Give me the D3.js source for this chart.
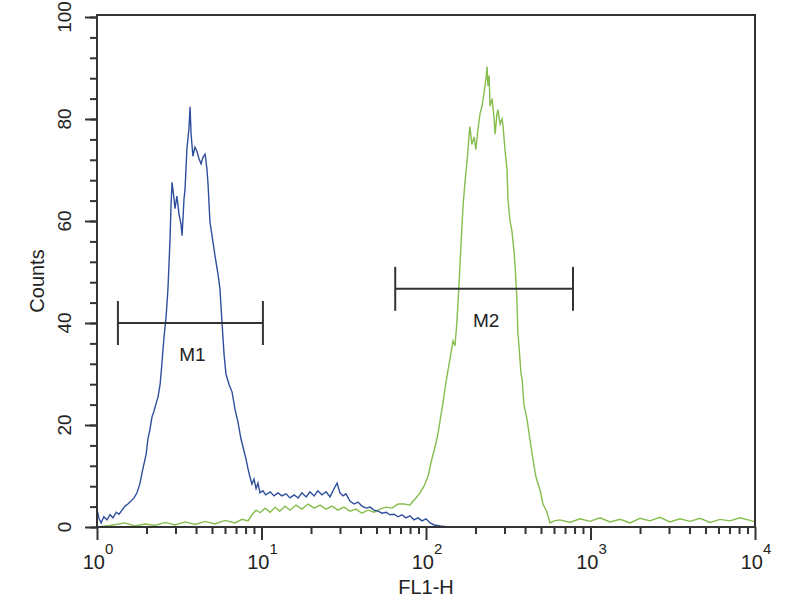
<!DOCTYPE html>
<html>
<head>
<meta charset="utf-8">
<script src="https://cdn.jsdelivr.net/npm/d3@7"></script>
<style>
  body { margin: 0; background: #fff; }
  svg text { font-family: "Liberation Sans", Arial, sans-serif; fill: #222; }
</style>
</head>
<body>
<svg id="chart" width="800" height="600"></svg>
<script>
// FL1-H histogram, blue = control, green = stained
var blue_x = [1.00,1.03,1.06,1.10,1.15,1.20,1.25,1.31,1.36,1.42,1.48,1.54,1.61,1.68,1.75,1.82,1.90,1.99,2.04,2.10,
  2.16,2.22,2.28,2.35,2.42,2.48,2.55,2.63,2.70,2.78,2.82,2.86,2.94,2.98,3.06,3.15,3.24,3.29,3.38,3.43,
  3.52,3.62,3.68,3.73,3.83,3.94,4.05,4.17,4.29,4.41,4.54,4.66,4.73,4.86,5.07,5.22,5.44,5.59,5.75,5.92,
  6.08,6.34,6.62,6.90,7.19,7.50,7.83,8.05,8.28,8.51,8.75,9.00,9.27,9.52,9.79,10.2,10.6,11.3,11.9,12.6,
  13.3,14.1,14.9,15.8,16.7,17.6,18.7,19.7,20.9,22.0,23.3,24.7,26.1,27.6,28.8,30.0,31.3,32.6,34.5,36.5,
  38.6,40.8,43.2,45.7,48.3,51.1,54.0,57.1,60.4,63.9,67.6,71.4,75.5,79.9,84.5,89.4,94.6,100,106,112,
  122,131];
var blue_counts = [3.5,1.6,0.8,2.0,1.4,2.4,1.8,2.9,2.5,3.3,4.1,4.5,5.1,5.7,6.7,8.4,11.4,14.3,17.3,19.2,
  21.6,22.7,24.1,25.5,28.0,32.0,36.9,41.2,46.7,56.5,63.3,67.6,64.3,62.4,64.9,61.4,59.4,57.1,64.3,66.3,
  74.1,78.0,82.4,77.1,72.7,74.5,73.7,72.2,71.2,72.5,73.1,70.2,67.3,59.8,55.9,53.1,49.6,46.7,40.2,33.9,
  30.0,28.0,26.5,23.1,20.6,17.3,14.9,13.3,11.4,9.8,8.4,9.4,7.5,8.6,6.7,7.1,6.3,6.9,6.1,6.7,
  6.1,6.5,5.7,6.3,5.7,6.7,5.9,6.9,6.1,7.1,6.3,6.9,5.9,7.5,8.6,6.7,6.1,6.5,5.1,4.5,
  4.9,4.1,3.7,3.9,3.3,3.1,2.7,2.9,2.4,2.5,2.0,2.4,1.8,2.2,1.4,1.8,1.2,1.6,0.8,0.4,
  0.2,0.1];

var green_x = [1.00,1.20,1.48,1.70,1.96,2.25,2.59,2.98,3.43,3.94,4.54,5.22,6.00,6.90,7.61,8.28,8.75,9.27,9.79,10.5,
  11.3,12.1,12.9,13.9,14.9,16.2,17.6,19.2,20.9,22.7,24.7,26.8,29.1,31.7,34.5,37.5,40.8,44.4,48.3,52.5,
  57.1,62.1,67.6,73.5,79.9,85.8,92.0,97.2,103,107,112,117,122,127,131,134,140,146,150,154,
  159,163,168,173,178,183,185,190,196,201,207,213,219,225,232,235,238,242,245,252,
  259,263,270,274,282,290,294,302,311,315,324,333,343,348,357,362,368,378,384,394,
  411,429,447,466,493,514,544,567,600,653,750,863,993,1143,1314,1511,1738,2000,2300,2645,
  3042,3499,4025,4630,5325,6125,7045,8104,9322,10000];
var green_counts = [0.0,0.3,0.8,0.2,0.6,0.3,0.9,0.4,1.0,0.5,1.1,0.6,1.3,0.8,1.5,1.2,2.4,3.3,2.8,3.7,
  2.9,3.9,3.1,4.1,3.3,4.3,3.5,4.5,3.7,4.3,3.5,4.1,3.3,3.9,3.1,3.5,2.7,3.3,2.9,3.5,
  3.9,3.7,4.5,4.5,4.3,5.5,6.7,8.0,10.0,12.5,15.0,17.5,21.0,24.5,27.5,29.5,33.0,36.5,35.5,40.0,
  48.0,55.0,63.0,68.0,72.0,77.0,78.5,75.0,76.5,74.0,78.0,81.0,82.5,85.0,88.0,90.3,86.5,88.5,82.5,84.0,
  80.5,77.0,81.0,81.8,79.0,80.0,78.6,74.0,70.0,64.3,60.0,58.0,54.0,51.2,44.7,38.0,35.3,30.0,29.0,24.0,
  21.2,17.0,13.3,9.8,7.3,4.5,2.9,0.8,1.2,1.4,0.9,1.6,1.1,1.8,1.0,1.5,0.8,1.7,1.2,1.9,
  1.0,1.6,1.1,1.7,0.9,1.5,1.2,1.8,1.3,1.0];

// markers M1 / M2 : [from, to, level]
var marker_names = ["M1", "M2"];
var marker_from = [1.34, 65];
var marker_to = [10.2, 783];
var marker_level = [40, 46.7];

var y_major = [0, 20, 40, 60, 80, 100];
var y_minor = d3.range(0, 101, 4);
var x_decades = [1, 10, 100, 1000, 10000];
var x_exponents = ["0", "1", "2", "3", "4"];
var x_minor = [];
x_decades.slice(0, 4).forEach(function(d) {
  [2,3,4,5,6,7,8,9].forEach(function(m) { x_minor.push(d*m); });
});

var plot_left = 97, plot_right = 755, plot_top = 17, plot_bottom = 527;
var svg = d3.select("#chart");

var x = d3.scaleLog().domain([1, 10000]).range([plot_left, plot_right]);
var y = d3.scaleLinear().domain([0, 100]).range([plot_bottom, plot_top]);

var line = d3.line()
  .x(function(d) { return x(d[0]); })
  .y(function(d) { return y(d[1]); });

var blue = d3.zip(blue_x, blue_counts);
var green = d3.zip(green_x, green_counts);

svg.append("path").datum(green)
  .attr("d", line).attr("fill", "none")
  .attr("stroke", "#86bd4e").attr("stroke-width", 1.4);
svg.append("path").datum(blue)
  .attr("d", line).attr("fill", "none")
  .attr("stroke", "#2f4f9c").attr("stroke-width", 1.4);

// frame
svg.append("rect")
  .attr("x", plot_left).attr("y", plot_top - 2)
  .attr("width", plot_right - plot_left).attr("height", plot_bottom - plot_top + 2)
  .attr("fill", "none").attr("stroke", "#333").attr("stroke-width", 2);

// y ticks
var yAxisMinor = d3.axisLeft(y).tickValues(y_minor).tickSize(7).tickFormat("");
var yAxisMajor = d3.axisLeft(y).tickValues(y_major).tickSize(12).tickFormat("");
[yAxisMinor, yAxisMajor].forEach(function(ax) {
  var g = svg.append("g").attr("transform", "translate(" + plot_left + ",0)").call(ax);
  g.select(".domain").remove();
  g.selectAll("line").attr("stroke", "#333").attr("stroke-width", 2);
});

// y tick labels (rotated)
y_major.forEach(function(v) {
  svg.append("text")
    .attr("transform", "translate(71," + y(v) + ") rotate(-90)")
    .attr("text-anchor", "middle")
    .attr("font-size", 19)
    .text(v);
});

// x ticks
var xAxisMinor = d3.axisBottom(x).tickValues(x_minor).tickSize(7).tickFormat("");
var xAxisMajor = d3.axisBottom(x).tickValues(x_decades).tickSize(13).tickFormat("");
[xAxisMinor, xAxisMajor].forEach(function(ax) {
  var g = svg.append("g").attr("transform", "translate(0," + plot_bottom + ")").call(ax);
  g.select(".domain").remove();
  g.selectAll("line").attr("stroke", "#333").attr("stroke-width", 2);
});

// x tick labels 10^n
x_decades.forEach(function(v, i) {
  var t = svg.append("text")
    .attr("x", x(v) + 1)
    .attr("y", 569)
    .attr("text-anchor", "middle")
    .attr("font-size", 20);
  t.append("tspan").text("10");
  t.append("tspan").attr("dy", -15).attr("font-size", 15).text(x_exponents[i]);
});

// axis titles
svg.append("text")
  .attr("x", 426).attr("y", 594)
  .attr("text-anchor", "middle")
  .attr("font-size", 20)
  .text("FL1-H");
svg.append("text")
  .attr("transform", "translate(44,281) rotate(-90)")
  .attr("text-anchor", "middle")
  .attr("font-size", 20)
  .text("Counts");

// markers
marker_names.forEach(function(name, i) {
  var x1 = x(marker_from[i]), x2 = x(marker_to[i]), yy = y(marker_level[i]);
  var g = svg.append("g").attr("stroke", "#333").attr("stroke-width", 2);
  g.append("line").attr("x1", x1).attr("x2", x2).attr("y1", yy).attr("y2", yy);
  g.append("line").attr("x1", x1).attr("x2", x1).attr("y1", yy - 22).attr("y2", yy + 22);
  g.append("line").attr("x1", x2).attr("x2", x2).attr("y1", yy - 22).attr("y2", yy + 22);
  svg.append("text")
    .attr("x", (x1 + x2) / 2 + 2)
    .attr("y", yy + 38)
    .attr("text-anchor", "middle")
    .attr("font-size", 19)
    .text(name);
});
</script>
</body>
</html>
